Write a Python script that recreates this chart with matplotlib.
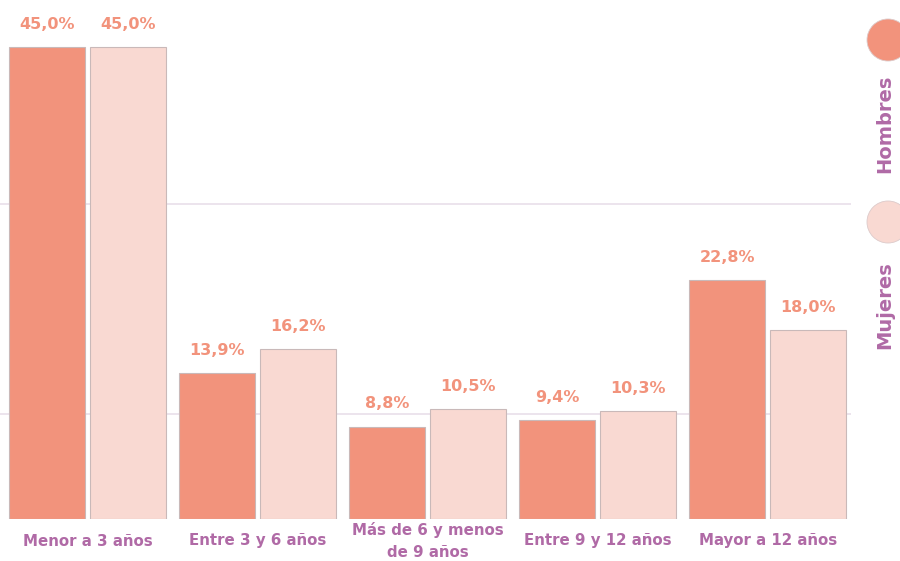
import matplotlib
matplotlib.use("Agg")
from matplotlib import pyplot as plt
from matplotlib.patches import Circle
import numpy as np

plt.rcParams['font.family'] = ['DejaVu Sans']

# data
categorias = ['Menor a 3 años', 'Entre 3 y 6 años', 'Más de 6 y menos\nde 9 años',
              'Entre 9 y 12 años', 'Mayor a 12 años']
hombres = [45.0, 13.9, 8.8, 9.4, 22.8]
mujeres = [45.0, 16.2, 10.5, 10.3, 18.0]
series = ['Hombres', 'Mujeres']

col_h = '#F2937C'
col_m = '#F9D9D2'
col_txt = '#B06AA6'
col_val = '#F2937C'

fig = plt.figure(figsize=(9, 5.61), dpi=100)
ax = fig.add_axes([0, 42/561, 851/900, 519/561])

x = np.arange(len(categorias))
w = 0.447
off = 0.238
b1 = ax.bar(x - off, hombres, w, color=col_h, edgecolor='#C9B9B9', linewidth=0.8, zorder=3)
b2 = ax.bar(x + off, mujeres, w, color=col_m, edgecolor='#C9B9B9', linewidth=0.8, zorder=3)

def fmt(v):
    return f'{v:.1f}%'.replace('.', ',')

for bars, vals in [(b1, hombres), (b2, mujeres)]:
    for b, v in zip(bars, vals):
        ax.annotate(fmt(v), (b.get_x() + b.get_width()/2, v), xytext=(0, 11),
                    textcoords='offset points', ha='center', va='bottom',
                    color=col_val, fontsize=11.5, fontweight='bold')

for yy in [10, 30]:
    ax.axhline(yy, color='#E9DFEA', linewidth=1.2, zorder=1)

ax.set_xlim(-0.515, 4.49)
ax.set_ylim(0, 49.5)
ax.set_xticks([])
ax.set_yticks([])
for s in ax.spines.values():
    s.set_visible(False)

# category labels, centred under each group
for xi, cat in zip(x, categorias):
    ax.text(xi, -22/519, cat, transform=ax.get_xaxis_transform(), ha='center',
            va='center', color=col_txt, fontsize=10.8, fontweight='bold',
            linespacing=1.55)

# legend on the right
legend_pos = [(5.21, 4.37), (3.39, 2.56)]
for name, col, (cy, ty) in zip(series, [col_h, col_m], legend_pos):
    c = Circle((8.88, cy), 0.21, transform=fig.dpi_scale_trans, facecolor=col,
               edgecolor='#DCCACA', linewidth=0.6)
    fig.add_artist(c)
    fig.text(8.85/9, ty/5.61, name, rotation=90, ha='center', va='center',
             color=col_txt, fontsize=14, fontweight='bold')

fig.savefig('out.png', dpi=100)
